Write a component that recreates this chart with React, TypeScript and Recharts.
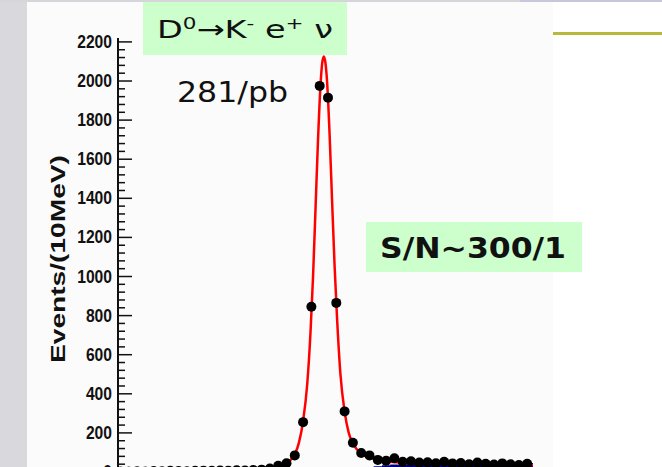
import React from "react";
import { Area, ComposedChart, Line, Scatter, XAxis, YAxis } from "recharts";

// bin centres (10 MeV bins) and counts
const binCenters = [
  -0.245, -0.235, -0.225, -0.215, -0.205, -0.195, -0.185, -0.175, -0.165, -0.155,
  -0.145, -0.135, -0.125, -0.115, -0.105, -0.095, -0.085, -0.075, -0.065, -0.055,
  -0.045, -0.035, -0.025, -0.015, -0.005, 0.005, 0.015, 0.025, 0.035, 0.045,
  0.055, 0.065, 0.075, 0.085, 0.095, 0.105, 0.115, 0.125, 0.135, 0.145,
  0.155, 0.165, 0.175, 0.185, 0.195, 0.205, 0.215, 0.225, 0.235, 0.245,
];
const eventCounts = [
  3, 2, 4, 3, 5, 4, 6, 5, 4, 6,
  7, 6, 8, 7, 9, 8, 10, 12, 18, 32,
  45, 85, 255, 845, 1975, 1915, 865, 310, 150, 97,
  85, 62, 58, 70, 52, 55, 48, 50, 45, 52,
  44, 46, 40, 48, 42, 38, 44, 40, 36, 42,
];

// fitted signal + background curve
const fitX = [
  -0.248, -0.15, -0.1, -0.08, -0.07, -0.06, -0.05, -0.045, -0.04, -0.035, -0.03,
  -0.025, -0.02, -0.016, -0.013, -0.01, -0.007, -0.004, -0.002, 0, 0.002, 0.004,
  0.007, 0.01, 0.013, 0.016, 0.02, 0.025, 0.03, 0.035, 0.04, 0.045, 0.05, 0.06,
  0.07, 0.08, 0.1, 0.13, 0.16, 0.2, 0.252,
];
const fitY = [
  0, 1, 3, 6, 10, 18, 32, 45, 62, 90, 150,
  260, 450, 720, 1000, 1350, 1700, 1980, 2090, 2125, 2090, 1990,
  1720, 1380, 1050, 780, 500, 310, 200, 145, 115, 95, 82, 68,
  58, 52, 46, 42, 40, 38, 36,
];

// background histogram (navy) on the high side
const bgX = [0.06, 0.07, 0.08, 0.09, 0.1, 0.11, 0.12, 0.13, 0.14, 0.15, 0.16, 0.17, 0.18, 0.19, 0.2, 0.21, 0.22, 0.23, 0.24, 0.252];
const bgY = [30, 34, 38, 36, 40, 38, 42, 40, 44, 40, 42, 38, 44, 40, 42, 38, 44, 42, 46, 46];

const yMajorTicks = [0, 200, 400, 600, 800, 1000, 1200, 1400, 1600, 1800, 2000, 2200];

const points = binCenters.map((x, i) => ({ x, events: eventCounts[i] }));
const fit = fitX.map((x, i) => ({ x, fit: fitY[i] }));
const bg = bgX.map((x, i) => ({ x, bg: bgY[i] }));

const yTicks: number[] = [];
for (let v = 0; v <= 2200; v += 40) yTicks.push(v);
const xTicks: number[] = [];
for (let k = -24; k <= 25; k++) xTicks.push(k / 100);

const X_DOMAIN: [number, number] = [-0.248, 0.252];
const Y_DOMAIN: [number, number] = [0, 2220];

function YTick({ x, y, payload }: any) {
  const major = yMajorTicks.includes(payload.value);
  const label = String(payload.value);
  return (
    <g>
      <line x1={x} x2={x + (major ? 14 : 7)} y1={y} y2={y} stroke="#111" strokeWidth={1.5} />
      {major && (
        <text
          x={x - 6}
          y={y}
          textAnchor="end"
          dominantBaseline="central"
          fontFamily="'Liberation Sans Narrow', 'Liberation Sans', Arial, sans-serif"
          fontWeight="bold"
          fontSize={18}
          fill="#111"
          textLength={label.length * 8.7}
          lengthAdjust="spacingAndGlyphs"
        >
          {label}
        </text>
      )}
    </g>
  );
}

function XTick({ x, y, payload }: any) {
  const major = Math.round(payload.value * 100) % 5 === 0;
  return <line x1={x} x2={x} y1={y} y2={y - (major ? 14 : 8)} stroke="#111" strokeWidth={1.5} />;
}

function YTitle(props: any) {
  const vb = props.viewBox;
  const cx = vb.x + 30;
  const cy = vb.y + vb.height / 2 + 4;
  return (
    <text
      x={cx}
      y={cy}
      transform={`rotate(-90 ${cx} ${cy})`}
      textAnchor="middle"
      dominantBaseline="central"
      fontFamily="'Liberation Sans', Arial, sans-serif"
      fontWeight="bold"
      fontSize={20}
      textLength={208}
      lengthAdjust="spacingAndGlyphs"
      fill="#111"
    >
      Events/(10MeV)
    </text>
  );
}

export default function App() {
  return (
    <div style={{ position: "absolute", left: 0, top: 0, width: 662, height: 467, overflow: "hidden", background: "#fff" }}>
      <div style={{ position: "absolute", left: 0, top: 0, width: 27, height: 467, background: "#d9d9dd" }} />
      <div style={{ position: "absolute", left: 0, top: 0, width: 520, height: 2, background: "#d6d6da" }} />
      <div style={{ position: "absolute", left: 520, top: 0, width: 142, height: 2, background: "#c6c6de" }} />
      <div style={{ position: "absolute", left: 27, top: 2, width: 526, height: 465, background: "#fbfbfb" }} />
      <div style={{ position: "absolute", left: 553, top: 32, width: 109, height: 3, background: "#b8b83a" }} />

      <div style={{ position: "absolute", left: 0, top: 0 }}>
        <ComposedChart width={662} height={480} margin={{ top: 38, right: 129, bottom: 8, left: 28 }}>
          <XAxis
            dataKey="x"
            type="number"
            domain={X_DOMAIN}
            allowDataOverflow
            ticks={xTicks}
            interval={0}
            tick={<XTick />}
            tickLine={false}
            tickSize={0}
            tickMargin={0}
            height={0}
            axisLine={{ stroke: "#111", strokeWidth: 2 }}
          />
          <XAxis
            xAxisId="top"
            orientation="top"
            type="number"
            domain={X_DOMAIN}
            tick={false}
            tickLine={false}
            height={0}
            axisLine={{ stroke: "#222", strokeWidth: 2.5 }}
          />
          <YAxis
            type="number"
            domain={Y_DOMAIN}
            allowDataOverflow
            ticks={yTicks}
            interval={0}
            tick={<YTick />}
            tickLine={false}
            tickSize={0}
            tickMargin={0}
            width={90}
            axisLine={{ stroke: "#111", strokeWidth: 2 }}
            label={{ content: <YTitle /> }}
          />
          <YAxis
            yAxisId="right"
            orientation="right"
            type="number"
            domain={Y_DOMAIN}
            tick={false}
            tickLine={false}
            width={0}
            axisLine={{ stroke: "#a0a0a0", strokeWidth: 2 }}
          />
          <Area
            data={bg}
            dataKey="bg"
            type="stepAfter"
            fill="#000080"
            fillOpacity={1}
            stroke="none"
            isAnimationActive={false}
          />
          <Line
            data={fit}
            dataKey="fit"
            type="monotone"
            stroke="#ff0000"
            strokeWidth={2.5}
            dot={false}
            isAnimationActive={false}
          />
          <Scatter
            data={points}
            dataKey="events"
            isAnimationActive={false}
            shape={(p: any) => <circle cx={p.cx} cy={p.cy} r={5} fill="#000" />}
          />
        </ComposedChart>
      </div>

      <svg width={662} height={467} style={{ position: "absolute", left: 0, top: 0, pointerEvents: "none" }}>
        <rect x={143} y={2} width={204} height={53} fill="#ccffcc" />
        <text
          x={157}
          y={38}
          fontFamily="'DejaVu Sans', Verdana, sans-serif"
          fontSize={25}
          fill="#111"
          textLength={176}
          lengthAdjust="spacingAndGlyphs"
        >
          D<tspan fontSize={16} dy={-9}>0</tspan>
          <tspan dy={9}>→K</tspan>
          <tspan fontSize={16} dy={-9}>-</tspan>
          <tspan dy={9}> e</tspan>
          <tspan fontSize={16} dy={-9}>+</tspan>
          <tspan dy={9}> ν</tspan>
        </text>
        <text
          x={177}
          y={102}
          fontFamily="'DejaVu Sans', Verdana, sans-serif"
          fontSize={28}
          fill="#111"
          textLength={111}
          lengthAdjust="spacingAndGlyphs"
        >
          281/pb
        </text>
        <rect x={366} y={222} width={216} height={50} fill="#ccffcc" />
        <text
          x={380}
          y={258}
          fontFamily="'DejaVu Sans', Verdana, sans-serif"
          fontWeight="bold"
          fontSize={28}
          fill="#111"
          textLength={186}
          lengthAdjust="spacingAndGlyphs"
        >
          S/N~300/1
        </text>
      </svg>
    </div>
  );
}
